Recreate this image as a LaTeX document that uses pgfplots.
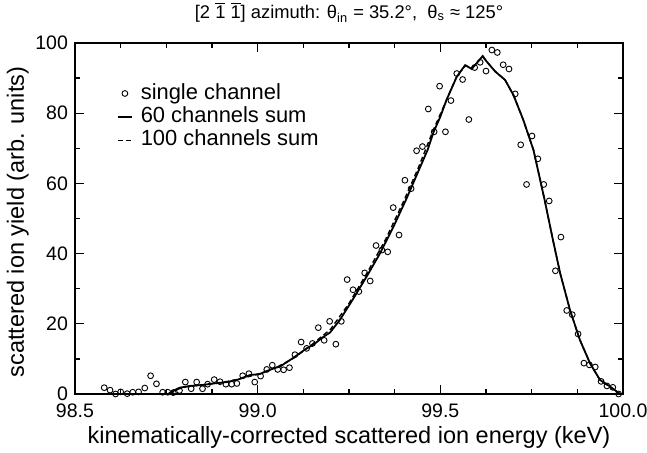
\documentclass[border=0pt]{standalone}
\usepackage{fontspec}
\setmainfont{Liberation Sans}
\usepackage{pgfplots}
\pgfplotsset{compat=1.18}
\pgfplotsset{
  lineleg/.style={legend image code/.code={\draw[##1] (0bp,0bp) -- (7bp,0bp);}},
  markleg/.style={legend image code/.code={\draw[mark repeat=2,mark phase=2,##1] plot coordinates {(0bp,0bp) (3.5bp,0bp) (7bp,0bp)};}},
}
\pgfplotstableread{
x y
98.580 1.8
98.596 1.1
98.611 0.0
98.625 0.6
98.643 0.1
98.658 0.5
98.674 0.6
98.691 1.7
98.707 5.2
98.723 2.9
98.740 0.5
98.754 0.5
98.769 0.4
98.786 1.0
98.802 3.4
98.818 1.5
98.833 3.4
98.849 1.5
98.863 2.8
98.881 4.1
98.897 3.5
98.913 2.8
98.929 2.8
98.943 3.0
98.959 5.2
98.976 5.8
98.992 3.4
99.008 5.1
99.025 7.0
99.040 8.2
99.055 7.0
99.071 6.9
99.087 7.5
99.102 11.2
99.119 14.8
99.134 13.0
99.150 14.4
99.166 18.9
99.182 15.3
99.197 20.7
99.214 14.2
99.229 20.7
99.245 32.6
99.261 29.7
99.277 29.2
99.293 34.5
99.308 32.2
99.324 42.3
99.340 41.0
99.356 40.5
99.371 53.1
99.387 45.3
99.403 60.9
99.420 58.5
99.435 69.3
99.451 70.5
99.467 81.2
99.483 74.7
99.498 87.7
99.514 74.7
99.529 83.6
99.545 91.3
99.561 89.6
99.578 78.2
99.594 93.0
99.609 94.5
99.625 92.0
99.641 98.0
99.656 97.3
99.672 93.8
99.688 92.6
99.705 85.5
99.720 71.0
99.736 59.7
99.751 73.5
99.767 67.0
99.783 59.7
99.798 55.0
99.815 35.1
99.830 44.7
99.846 23.8
99.861 22.6
99.877 17.1
99.893 8.8
99.908 8.3
99.924 7.7
99.940 3.6
99.956 2.3
99.972 1.9
99.988 0.0
}\single
\pgfplotstableread{
x y
98.755 0.0
98.770 1.0
98.787 1.8
98.815 2.3
98.851 2.6
98.879 3.0
98.915 3.4
98.943 4.0
98.979 5.4
99.006 5.7
99.043 7.3
99.061 7.8
99.089 9.7
99.107 11.0
99.134 13.0
99.152 14.0
99.180 16.3
99.198 17.5
99.225 21.1
99.262 27.2
99.298 33.4
99.335 40.1
99.371 47.5
99.408 55.8
99.440 63.5
99.465 69.5
99.481 74.5
99.500 79.0
99.517 83.8
99.545 90.4
99.568 93.7
99.586 92.6
99.616 96.3
99.627 94.7
99.650 91.9
99.677 89.5
99.700 85.2
99.727 78.1
99.755 69.5
99.770 62.5
99.785 55.5
99.809 43.5
99.828 34.4
99.855 23.9
99.882 15.4
99.910 8.7
99.937 4.0
99.965 2.1
99.992 0.0
}\sixty
\pgfplotstableread{
x y
98.760 0.0
98.780 1.3
98.800 2.0
98.850 2.6
98.900 3.2
98.950 4.3
99.000 5.6
99.050 7.5
99.100 10.3
99.150 14.2
99.200 18.5
99.250 25.8
99.300 34.6
99.350 44.0
99.400 55.0
99.440 64.5
99.480 75.0
99.520 84.5
99.545 90.5
99.568 93.5
99.586 93.0
99.616 96.0
99.627 94.7
99.650 91.9
99.677 89.5
99.700 85.2
99.727 78.1
99.755 69.5
99.785 55.5
99.809 43.5
99.828 34.4
99.855 23.9
99.882 15.4
99.910 8.7
99.937 4.0
99.965 2.0
99.992 0.0
}\hundred
\begin{document}
\begin{tikzpicture}
\begin{axis}[
  name=ax,
  scale only axis,
  width=274bp, height=175.5bp,
  xmin=98.5, xmax=100.0, ymin=0, ymax=100,
  xtick={98.5,99.0,99.5,100.0},
  minor xtick={98.625,98.75,98.875,99.125,99.25,99.375,99.625,99.75,99.875},
  ytick={0,20,40,60,80,100},
  minor ytick={10,30,50,70,90},
  tick align=inside,
  major tick length=4.5bp, minor tick length=2.5bp,
  axis line style={line width=0.7bp},
  every tick/.style={line width=0.6bp, black},
  /pgf/number format/assume math mode=true,
  xticklabel style={/pgf/number format/fixed, /pgf/number format/fixed zerofill, /pgf/number format/precision=1, yshift=-1.5bp},
  tick label style={font=\fontsize{9.8}{11}\selectfont},
  every axis x label/.style={at={(axis description cs:0.5,-0.1396)}, anchor=base, font=\fontsize{11.8}{13}\selectfont},
  every axis y label/.style={at={(axis description cs:-0.0931,0.49)}, rotate=90, anchor=base, font=\fontsize{11.8}{13}\selectfont},
  every axis title/.style={at={(axis description cs:0.5,1.0684)}, anchor=base, font=\fontsize{9.2}{11}\selectfont},
  xlabel={kinematically-corrected scattered ion energy (keV)},
  ylabel={scattered ion yield (arb. units)},
  title={[2 $\overline{\mbox{1}}$ $\overline{\mbox{1}}$] azimuth: θ\textsubscript{in} = 35.2°,~~θ\textsubscript{s} ≈ 125°},
  legend style={draw=none, fill=none, at={(axis description cs:0.065,0.902)}, anchor=north west,
    font=\fontsize{11}{13}\selectfont, row sep=0bp, column sep=4bp,
    nodes={inner sep=0bp, text height=8.7bp, text depth=3bp}},
  legend cell align=left,
]
\addplot[only marks, mark=o, mark size=1.45bp, mark options={line width=0.45bp, black}, markleg]
  table[x=x,y=y] {\single};
\addlegendentry{single channel}
\addplot[black, line width=0.9bp, mark=none, lineleg] table[x=x,y=y] {\sixty};
\addlegendentry{60 channels sum}
\addplot[black, line width=0.7bp, dash pattern=on 2.5bp off 1.5bp, mark=none, lineleg] table[x=x,y=y] {\hundred};
\addlegendentry{100 channels sum}
\end{axis}
\pgfresetboundingbox
\useasboundingbox ([shift={(-37.5bp,-29.5bp)}]ax.south west) rectangle ([shift={(12bp,21.5bp)}]ax.north east);
\end{tikzpicture}
\end{document}
